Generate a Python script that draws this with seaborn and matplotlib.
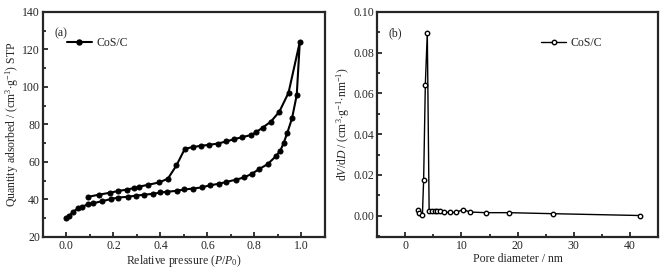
import pandas as pd
import matplotlib.pyplot as plt
import seaborn as sns
from matplotlib.ticker import MultipleLocator
from matplotlib.lines import Line2D

# (a) N2 isotherm: adsorption branch then desorption branch
ads_p = [0.0, 0.01, 0.03, 0.05, 0.065, 0.094, 0.115, 0.15, 0.19, 0.22, 0.26, 0.295,
         0.33, 0.37, 0.40, 0.43, 0.47, 0.50, 0.54, 0.575, 0.61, 0.65, 0.68, 0.72,
         0.755, 0.79, 0.82, 0.856, 0.89, 0.91, 0.925, 0.94, 0.96, 0.98, 0.993]
ads_q = [30.0, 31.0, 33.5, 35.3, 36.0, 37.5, 38.0, 39.0, 40.2, 41.0, 41.4, 42.0,
         42.5, 43.0, 43.7, 44.1, 44.6, 45.3, 45.8, 46.4, 47.5, 48.4, 49.3, 50.5,
         51.7, 53.7, 56.2, 58.8, 62.9, 66.0, 70.3, 75.6, 83.3, 95.7, 124.0]
des_p = [0.945, 0.906, 0.87, 0.835, 0.806, 0.787, 0.748, 0.712, 0.68, 0.643, 0.607,
         0.571, 0.537, 0.504, 0.468, 0.432, 0.396, 0.348, 0.309, 0.288, 0.256, 0.22,
         0.187, 0.137, 0.094]
des_q = [96.9, 86.8, 81.5, 78.3, 75.8, 74.4, 73.2, 72.1, 70.9, 69.8, 69.1,
         68.6, 67.9, 67.0, 58.1, 51.1, 49.1, 47.8, 46.8, 46.1, 45.2, 44.5,
         43.6, 42.5, 41.4]

# (b) pore size distribution
pore_d = [2.2, 2.5, 3.05, 3.27, 3.57, 3.92, 4.25, 4.82, 5.23, 5.65, 6.12, 6.9,
          7.9, 9.1, 10.2, 11.6, 14.3, 18.4, 26.3, 41.8]
dvdd = [0.0030, 0.0015, 0.0002, 0.0177, 0.0644, 0.0898, 0.0021, 0.0021, 0.0021,
        0.0021, 0.0021, 0.0018, 0.0016, 0.0016, 0.0030, 0.0018, 0.0015, 0.0015,
        0.0010, 0.0001]

sns.set_style("ticks")
plt.rcParams['font.family'] = ['Liberation Serif', 'DejaVu Serif']
plt.rcParams['mathtext.fontset'] = 'custom'
plt.rcParams['mathtext.rm'] = 'Liberation Serif'
plt.rcParams['mathtext.it'] = 'Liberation Serif:italic'
plt.rcParams['font.size'] = 8.5

iso = pd.DataFrame({'p': ads_p + des_p, 'q': ads_q + des_q})
psd = pd.DataFrame({'d': pore_d, 'v': dvdd})

fig = plt.figure(figsize=(6.7, 2.72), dpi=100)
ax1 = fig.add_axes([0.064, 0.129, 0.421, 0.827])
ax2 = fig.add_axes([0.563, 0.129, 0.419, 0.827])

sns.lineplot(data=iso, x='p', y='q', sort=False, estimator=None, ax=ax1,
             color='black', lw=1.5, marker='o', markersize=3.6,
             markerfacecolor='black', markeredgecolor='black')
sns.lineplot(data=psd, x='d', y='v', sort=False, estimator=None, ax=ax2,
             color='black', lw=1.0, marker='o', markersize=3.2,
             markerfacecolor='white', markeredgecolor='black', markeredgewidth=1.0)

ax1.set_xlim(-0.1, 1.1)
ax1.set_ylim(20, 140)
ax1.xaxis.set_major_locator(MultipleLocator(0.2))
ax1.xaxis.set_minor_locator(MultipleLocator(0.1))
ax1.yaxis.set_major_locator(MultipleLocator(20))
ax1.yaxis.set_minor_locator(MultipleLocator(10))
ax1.set_xticks([0.0, 0.2, 0.4, 0.6, 0.8, 1.0])
ax1.set_xticklabels(['0.0', '0.2', '0.4', '0.6', '0.8', '1.0'])
ax1.set_xlabel(r'Relative pressure ($P$/$P_0$)', labelpad=1)
ax1.set_ylabel(r'Quantity adsorbed / (cm$^3$$\cdot$g$^{-1}$) STP', labelpad=1)
ax1.text(0.04, 0.93, '(a)', transform=ax1.transAxes, ha='left', va='top')

ax2.set_xlim(-5, 45)
ax2.set_ylim(-0.0104, 0.1)
ax2.xaxis.set_major_locator(MultipleLocator(10))
ax2.xaxis.set_minor_locator(MultipleLocator(5))
ax2.yaxis.set_major_locator(MultipleLocator(0.02))
ax2.yaxis.set_minor_locator(MultipleLocator(0.01))
ax2.yaxis.set_major_formatter(plt.FormatStrFormatter('%.2f'))
ax2.set_xlabel('Pore diameter / nm', labelpad=1)
ax2.set_ylabel(r'd$V$/d$D$ / (cm$^3$$\cdot$g$^{-1}$$\cdot$nm$^{-1}$)', labelpad=1)
ax2.text(0.04, 0.93, '(b)', transform=ax2.transAxes, ha='left', va='top')

for ax in (ax1, ax2):
    for s in ax.spines.values():
        s.set_visible(True)
        s.set_linewidth(1.6)
    ax.tick_params(which='both', direction='in', width=1.3, top=False, right=False, pad=2)
    ax.tick_params(which='major', length=3.5)
    ax.tick_params(which='minor', length=2.5)

h1 = Line2D([], [], color='black', lw=1.5, marker='o', markersize=3.6, markerfacecolor='black')
ax1.legend([h1], ['CoS/C'], loc='center left', bbox_to_anchor=(0.085, 0.862), frameon=False,
           handlelength=2.1, handletextpad=0.4, borderaxespad=0, borderpad=0)
h2 = Line2D([], [], color='black', lw=1.0, marker='o', markersize=3.2, markerfacecolor='white')
ax2.legend([h2], ['CoS/C'], loc='center left', bbox_to_anchor=(0.585, 0.862), frameon=False,
           handlelength=2.1, handletextpad=0.4, borderaxespad=0, borderpad=0)

fig.savefig('out.png', dpi=100)
